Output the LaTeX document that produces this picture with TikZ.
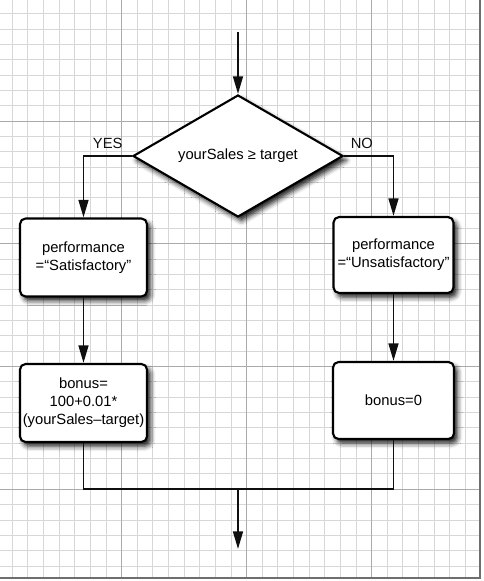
\documentclass[tikz,border=0pt]{standalone}
\usepackage{fontspec}
\setmainfont{Liberation Sans}
\usetikzlibrary{shapes.geometric, arrows.meta, positioning, shadows.blur}
\definecolor{gridminor}{RGB}{215,215,215}
\definecolor{gridmajor}{RGB}{170,170,170}
\definecolor{edgecolor}{RGB}{110,110,110}
\definecolor{flowcolor}{RGB}{15,15,15}

\begin{document}
\begin{tikzpicture}[
    x=0.025cm, y=-0.025cm,
    decision/.style={diamond, draw, line width=1.5pt, fill=white, aspect=1.72, inner sep=0pt, minimum width=5.25cm, minimum height=3.05cm, font=\fontsize{10.5}{12.8}\selectfont, blur shadow={shadow xshift=2.5pt, shadow yshift=-3pt, shadow blur radius=3.5pt, shadow opacity=90}},
    process/.style={draw, line width=1.5pt, rounded corners=4pt, fill=white, minimum width=3.175cm, minimum height=1.95cm, inner sep=2pt, font=\fontsize{10.5}{12.8}\selectfont, align=center, blur shadow={shadow xshift=2.5pt, shadow yshift=-3pt, shadow blur radius=3.5pt, shadow opacity=90}},
    arrow/.style={-{Triangle[length=12.5pt, width=7pt]}, line width=1.4pt, flowcolor},
    link/.style={line width=1.2pt, flowcolor},
    branch/.style={font=\fontsize{10.5}{12.8}\selectfont, inner sep=1.5pt, yshift=3pt}
]
    \useasboundingbox (0,0) rectangle (483,581);

    % grid paper
    \begin{scope}
        \clip (0,0) rectangle (480,578);
        \foreach \i [evaluate=\i as \gx using -3.5+\i*15.625] in {0,...,31}
            \draw[gridminor, line width=0.5pt] (\gx,0) -- (\gx,578);
        \foreach \j [evaluate=\j as \gy using -1.7+\j*15.34] in {0,...,38}
            \draw[gridminor, line width=0.5pt] (0,\gy) -- (480,\gy);
        \foreach \i [evaluate=\i as \gx using -3.5+\i*125] in {0,...,4}
            \draw[gridmajor, line width=0.6pt] (\gx,0) -- (\gx,578);
        \foreach \j [evaluate=\j as \gy using -1.7+\j*122.7] in {0,...,4}
            \draw[gridmajor, line width=0.6pt] (0,\gy) -- (480,\gy);
    \end{scope}
    \draw[edgecolor, line width=0.8pt] (480,0) -- (480,578) -- (0,578);

    % decision
    \coordinate (start) at (238,32);
    \node[decision] (test) at (238,156) {yourSales ≥ target};

    % branches
    \node[process] (satis) at (83.5,257.5) {performance\\=“Satisfactory”};
    \node[process, minimum width=3.0cm, minimum height=1.9cm] (unsatis) at (393.5,255) {performance\\=“Unsatisfactory”};
    \node[process] (bonusa) at (83.5,403) {bonus=\\100+0.01*\\(yourSales--target)};
    \node[process, minimum width=3.025cm, minimum height=1.925cm] (bonusb) at (393.5,400.5) {bonus=0};

    % join
    \coordinate (join) at (238,489);
    \coordinate (end) at (238,549);

    % connections
    \draw[arrow] (start) -- (test.north);
    \draw[arrow] (test.west) -| (satis.north) node[branch, pos=0.25, above] {YES};
    \draw[arrow] (test.east) -| (unsatis.north) node[branch, pos=0.18, above] {NO};
    \draw[arrow] (satis) -- (bonusa);
    \draw[arrow] (unsatis) -- (bonusb);
    \draw[link] (bonusa.south) |- (join) -| (bonusb.south);
    \draw[arrow] (join) -- (end);
\end{tikzpicture}
\end{document}
